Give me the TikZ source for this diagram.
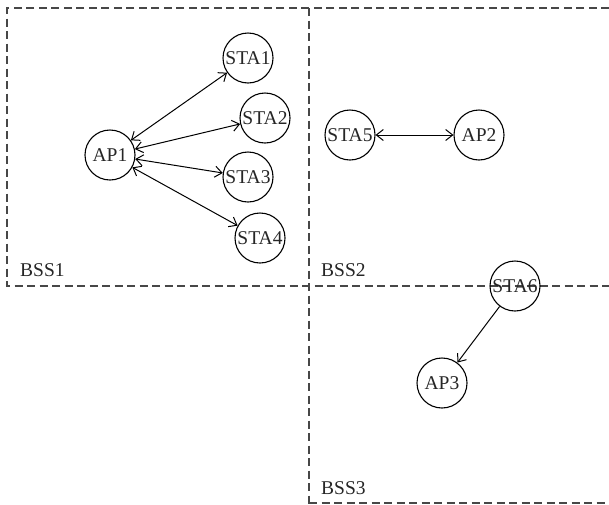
\documentclass[tikz,border=0pt]{standalone}
\usepackage{fontspec}
\setmainfont{Liberation Serif}
\usetikzlibrary{arrows.meta}
\begin{document}
\begin{tikzpicture}[x=1pt,y=-1pt,
  stn/.style={draw, circle, line width=1.1pt, minimum size=50pt, inner sep=0pt, font=\fontsize{19.5}{22}\selectfont, text=black!85},
  bssline/.style={draw=black!72, line width=1.2pt, dash pattern=on 8pt off 4.5pt},
  lbl/.style={anchor=base west, inner sep=0pt, font=\fontsize{19.5}{22}\selectfont, text=black!85},
  link/.style={line width=1pt, {Straight Barb[length=7pt,width=11pt]}-{Straight Barb[length=7pt,width=11pt]}},
  onelink/.style={line width=1pt, -{Straight Barb[length=7pt,width=11pt]}}]
\useasboundingbox (0,0) rectangle (609,504);
% dashed boundaries
\draw[bssline] (609,8) -- (7,8) -- (7,286) -- (609,286);
\draw[bssline] (309,8) -- (309,504);
\draw[bssline] (309,503) -- (609,503);
% labels
\node[lbl] (b1) at (20,276) {BSS1};
\node[lbl] (b2) at (321,276) {BSS2};
\node[lbl] (b3) at (321,494) {BSS3};
% nodes
\node[stn] (ap1) at (110,155) {AP1};
\node[stn] (s1) at (248,58) {STA1};
\node[stn] (s2) at (265,118) {STA2};
\node[stn] (s3) at (248,177) {STA3};
\node[stn] (s4) at (260,238) {STA4};
\node[stn] (s5) at (350,135) {STA5};
\node[stn] (ap2) at (479,135) {AP2};
\node[stn] (s6) at (515,286) {STA6};
\node[stn] (ap3) at (442,383) {AP3};
% links
\draw[link] (ap1) -- (s1);
\draw[link] (ap1) -- (s2);
\draw[link] (ap1) -- (s3);
\draw[link] (ap1) -- (s4);
\draw[link] (s5) -- (ap2);
\draw[onelink] (s6) -- (ap3);
\end{tikzpicture}
\end{document}
